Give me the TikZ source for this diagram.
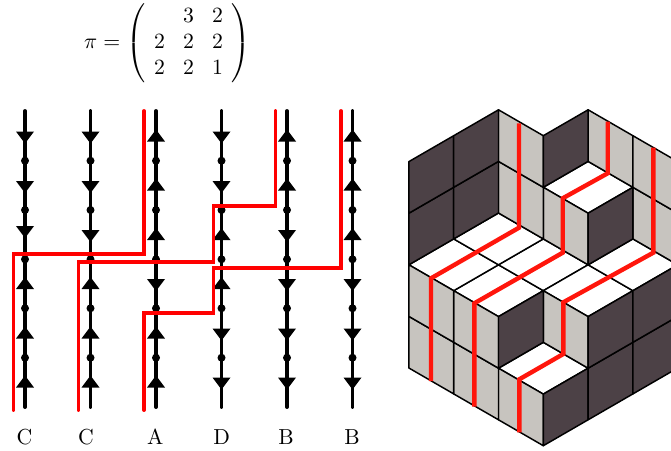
\documentclass[tikz,border=0pt]{standalone}
\definecolor{darkface}{RGB}{76,65,70}
\definecolor{grayface}{RGB}{199,196,191}
\definecolor{redright}{RGB}{255,22,12}
\tikzset{
  strand/.style={line width=3.9*.75pt,black,line cap=round},
  redpath/.style={line width=3.9*.75pt,red,line cap=round,line join=miter},
  redtile/.style={line width=4.4*.75pt,redright,line cap=butt,line join=miter},
  dark/.style={fill=darkface,draw=black,line width=1.1pt,line join=round},
  gray/.style={fill=grayface,draw=black,line width=1.1pt,line join=round},
  whitef/.style={fill=white,draw=black,line width=1.1pt,line join=round},
  lab/.style={scale=1.63,inner sep=0pt,anchor=base}
}
% arrow heads: x, flat-side y
\newcommand{\arrdn}[2]{\fill (#1-9,#2) -- (#1+9,#2) -- (#1,#2+12) -- cycle;}
\newcommand{\arrup}[2]{\fill (#1-9,#2+12) -- (#1+9,#2+12) -- (#1,#2) -- cycle;}
\newcommand{\strandbase}[1]{%
  \draw[strand] (#1,111) -- (#1,407);
  \foreach \yy in {160.7,210,259.3,308.3,357.7}{\fill (#1,\yy) circle (4);}
}
\newcommand{\gf}[3]{\draw[gray] (#1,#2,#3) -- (#1+1,#2,#3) -- (#1+1,#2,#3+1) -- (#1,#2,#3+1) -- cycle;}
\newcommand{\df}[3]{\draw[dark] (#1,#2,#3) -- (#1,#2+1,#3) -- (#1,#2+1,#3+1) -- (#1,#2,#3+1) -- cycle;}
\newcommand{\wf}[3]{\draw[whitef] (#1,#2,#3) -- (#1+1,#2,#3) -- (#1+1,#2+1,#3) -- (#1,#2+1,#3) -- cycle;}
\begin{document}
\begin{tikzpicture}[x=.75pt,y=-.75pt]
\useasboundingbox (0,0) rectangle (671,450);
\clip (0,0) rectangle (671,450);
% formula
\node[scale=1.63,inner sep=0pt] (formula) at (167.5,43.2) {\arraycolsep=4.15pt$\pi=\left(\begin{array}{ccc} &3&2\\2&2&2\\2&2&1\end{array}\right)$};
% strands
\foreach \xx in {25,90.5,156,221.5,287,352.5}{\strandbase{\xx}}
% column 0
\arrdn{25}{131.5}\arrdn{25}{181}\arrdn{25}{226}\arrup{25}{277}\arrup{25}{326.5}\arrup{25}{375.5}
% column 1
\arrdn{90.5}{131.5}\arrdn{90.5}{181}\arrdn{90.5}{230}\arrup{90.5}{277}\arrup{90.5}{326.5}\arrup{90.5}{375.5}
% column 2
\arrup{156}{129.5}\arrup{156}{178.5}\arrup{156}{228}\arrdn{156}{279}\arrup{156}{326.5}\arrup{156}{375.5}
% column 3
\arrdn{221.5}{131.5}\arrdn{221.5}{181}\arrup{221.5}{228}\arrup{221.5}{277}\arrdn{221.5}{328.5}\arrdn{221.5}{377.5}
% column 4
\arrup{287}{129.5}\arrup{287}{178.5}\arrdn{287}{230}\arrdn{287}{279}\arrdn{287}{328.5}\arrdn{287}{377.5}
% column 5
\arrup{352.5}{129.5}\arrup{352.5}{178.5}\arrup{352.5}{228}\arrdn{352.5}{279}\arrdn{352.5}{328.5}\arrdn{352.5}{377.5}
% red paths
\draw[redpath] (144,111) -- (144,253.7) -- (13.5,253.7) -- (13.5,410);
\draw[redpath] (275.5,111) -- (275.5,205.7) -- (213.5,205.7) -- (213.5,262) -- (78.5,262) -- (78.5,410);
\draw[redpath] (341,111) -- (341,267.7) -- (213.5,267.7) -- (213.5,313.3) -- (144,313.3) -- (144,410);
% labels
\node[lab] (l1) at (24.5,444) {C};
\node[lab] (l2) at (86,444) {C};
\node[lab] (l3) at (155.3,444) {A};
\node[lab] (l4) at (221.7,444) {D};
\node[lab] (l5) at (286,444) {B};
\node[lab] (l6) at (352,444) {B};
% stepped surface
\begin{scope}[shift={(407.475pt,-334.275pt)},x={(-33.6pt,19.425pt)},y={(33.6pt,19.425pt)},z={(0pt,38.7pt)}]
  % white tops
  \wf{0}{0}{1}
  \wf{1}{0}{2}\wf{2}{0}{2}\wf{1}{1}{2}\wf{2}{1}{2}
  \wf{0}{1}{2}\wf{0}{2}{2}
  \wf{1}{2}{3}
  % gray faces (j constant)
  \gf{0}{0}{0}
  \gf{1}{0}{0}\gf{1}{0}{1}\gf{2}{0}{0}\gf{2}{0}{1}
  \gf{0}{1}{1}
  \gf{1}{2}{2}
  \gf{2}{2}{2}\gf{2}{2}{3}
  \gf{1}{3}{3}
  \gf{0}{3}{2}\gf{0}{3}{3}
  % dark faces (i constant)
  \df{0}{0}{0}
  \df{0}{1}{0}\df{0}{1}{1}\df{0}{2}{0}\df{0}{2}{1}
  \df{1}{0}{1}
  \df{1}{2}{2}
  \df{2}{2}{3}
  \df{3}{0}{2}\df{3}{0}{3}\df{3}{1}{2}\df{3}{1}{3}
\end{scope}
% red strips on the surface
\draw[redtile] (519,123.3) -- (519,227.7) -- (431,278.3) -- (431,381);
\draw[redtile] (607.7,121.7) -- (607.7,173.3) -- (562.7,198.3) -- (562.7,252.7) -- (474.3,303.3) -- (474.3,406.7);
\draw[redtile] (653.3,147.7) -- (653.3,252.7) -- (563.3,302.3) -- (563.3,354) -- (519.3,379.3) -- (519.3,432.3);
\end{tikzpicture}
\end{document}
